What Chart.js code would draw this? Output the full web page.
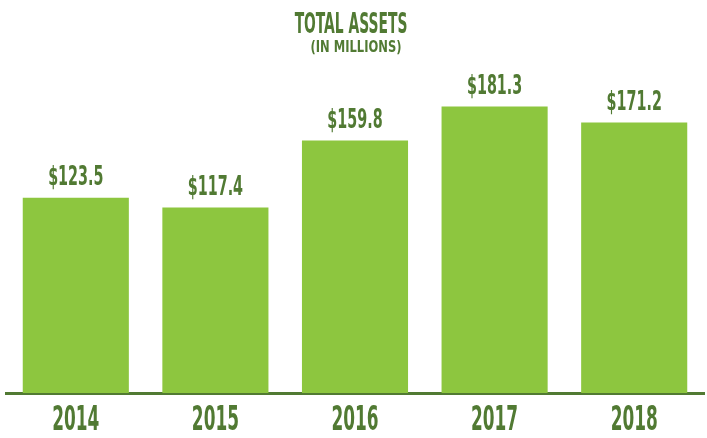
<!DOCTYPE html>
<html>
<head>
<meta charset="utf-8">
<script src="https://cdn.jsdelivr.net/npm/chart.js@4"></script>
<style>
  html, body { margin: 0; padding: 0; background: #fff; }
  #wrap { width: 707px; height: 438px; }
</style>
</head>
<body>
<div id="wrap"><canvas id="chart1"></canvas></div>
<script>
var years = ["2014", "2015", "2016", "2017", "2018"];
var assets = [123.5, 117.4, 159.8, 181.3, 171.2];
var valueLabels = ["$123.5", "$117.4", "$159.8", "$181.3", "$171.2"];
var titleText = "TOTAL ASSETS";
var subtitleText = "(IN MILLIONS)";

var dark = '#517a33';
var light = '#8dc63f';
var face = '"DejaVu Sans Condensed", "DejaVu Sans", sans-serif';

// the reference uses a very narrow face, so squeeze the text sideways
function narrowText(c, text, x, y, size, sx) {
    c.save();
    c.font = 'bold ' + size + 'px ' + face;
    c.translate(x, y);
    c.scale(sx, 1);
    c.fillText(text, 0, 0);
    c.restore();
}

var textLayer = {
    id: 'textLayer',
    afterDatasetsDraw: function(chart) {
        var c = chart.ctx;
        var meta = chart.getDatasetMeta(0);
        var xs = chart.scales.x;
        var mid = (chart.chartArea.left + chart.chartArea.right) / 2;
        c.save();
        c.fillStyle = dark;
        c.textAlign = 'center';
        c.textBaseline = 'alphabetic';

        narrowText(c, titleText, mid - 4, 33, 28, 0.55);
        narrowText(c, subtitleText, mid + 1, 52, 16, 0.8);

        meta.data.forEach(function(bar, i) {
            narrowText(c, valueLabels[i], bar.x, bar.y - 13, 27, 0.59);
        });
        years.forEach(function(y, i) {
            narrowText(c, y, xs.getPixelForTick(i), 430, 33, 0.57);
        });
        c.restore();
    }
};

var ctx = document.getElementById('chart1').getContext('2d');
var chart = new Chart(ctx, {
    type: 'bar',
    data: {
        labels: years,
        datasets: [{
            label: "Total assets",
            backgroundColor: light,
            data: assets,
            barPercentage: 0.76,
            categoryPercentage: 1.0
        }]
    },
    options: {
        responsive: true,
        maintainAspectRatio: false,
        animation: false,
        layout: { padding: { left: 6, right: 3, top: 77, bottom: 45 } },
        plugins: {
            legend: { display: false },
            tooltip: { enabled: false },
            title: { display: false }
        },
        scales: {
            x: {
                grid: { display: false, drawTicks: false },
                border: { color: dark, width: 3 },
                ticks: { display: false }
            },
            y: {
                display: false,
                min: 0,
                max: 200
            }
        }
    },
    plugins: [textLayer]
});
</script>
</body>
</html>
